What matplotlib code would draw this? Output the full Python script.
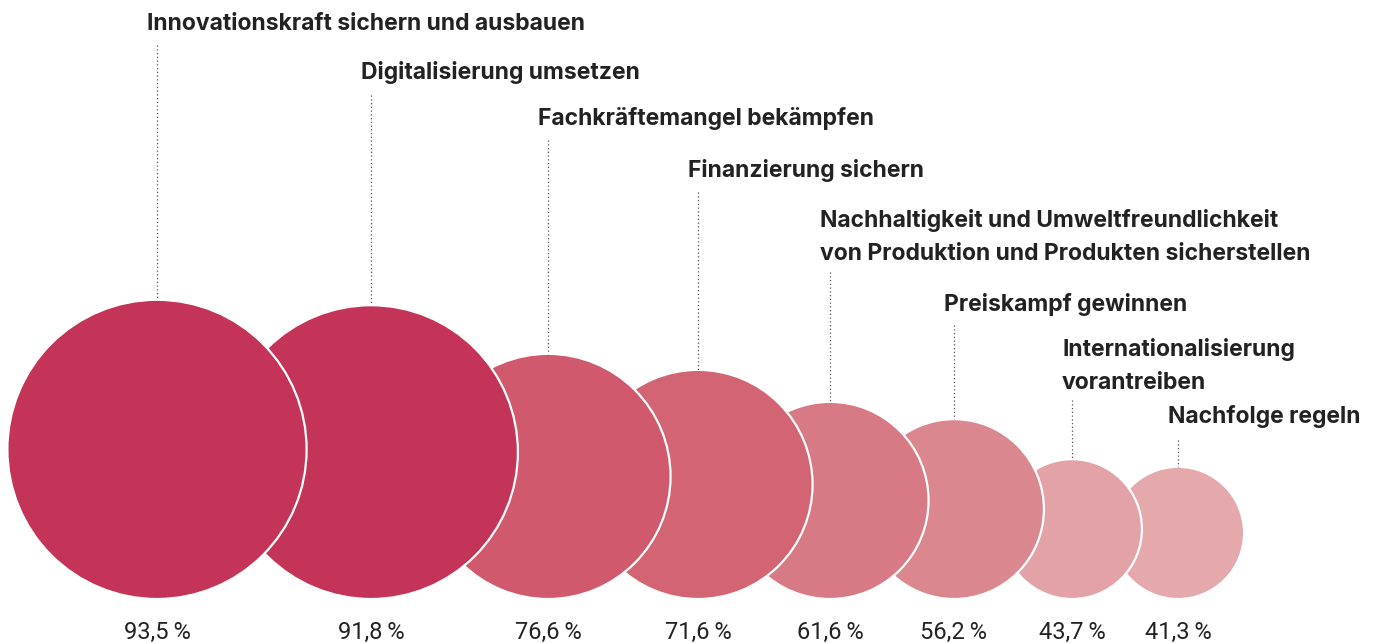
import matplotlib
matplotlib.use("Agg")
import matplotlib.pyplot as plt
from matplotlib.patches import Circle
from matplotlib import font_manager

# ---- data ----
categories = [
    "Innovationskraft sichern und ausbauen",
    "Digitalisierung umsetzen",
    "Fachkräftemangel bekämpfen",
    "Finanzierung sichern",
    "Nachhaltigkeit und Umweltfreundlichkeit\nvon Produktion und Produkten sicherstellen",
    "Preiskampf gewinnen",
    "Internationalisierung\nvorantreiben",
    "Nachfolge regeln",
]
values = [93.5, 91.8, 76.6, 71.6, 61.6, 56.2, 43.7, 41.3]
value_labels = ["93,5\u2009%", "91,8\u2009%", "76,6\u2009%", "71,6\u2009%",
                "61,6\u2009%", "56,2\u2009%", "43,7\u2009%", "41,3\u2009%"]

# ---- layout / style ----
colors = ["#C43358", "#C43358", "#D0596D", "#D36473",
          "#D77A85", "#DB878F", "#E3A2A8", "#E4A8AD"]
x_pos = [157, 371, 548, 698, 830, 954, 1072, 1178]
label_y = [24, 73, 119, 170, 237, 304, 366, 416]
line_top = [45, 95, 140, 192, 272, 325, 400, 440]
px_per_pct = 1.6
baseline = 599

avail = {f.name for f in font_manager.fontManager.ttflist}
label_font = ["Inter", "DejaVu Sans"]
pct_font = (["Liberation Sans Narrow"] if "Liberation Sans Narrow" in avail else []) + ["Roboto", "DejaVu Sans"]

fig = plt.figure(figsize=(13.74, 6.43), dpi=100)
ax = fig.add_axes([0, 0, 1, 1])
ax.set_xlim(0, 1374)
ax.set_ylim(643, 0)
ax.set_aspect("equal")
ax.axis("off")

for i, (v, c, x) in enumerate(zip(values, colors, x_pos)):
    r = v * px_per_pct
    cy = baseline - r
    ax.add_patch(Circle((x, cy), r, facecolor=c, edgecolor="white",
                        linewidth=1.6, zorder=20 - i))
    # leader line
    ax.plot([x, x], [line_top[i], baseline - 2 * r], color="#555555",
            linewidth=0.9, linestyle=(0, (1, 2)), zorder=30)
    # category label
    ax.text(x - 10, label_y[i], categories[i], ha="left", va="center",
            fontsize=16.5, fontweight="bold", color="#222222",
            family=label_font, linespacing=1.6, zorder=40)
    # value label
    ax.text(x, 632, value_labels[i], ha="center", va="center",
            fontsize=17, fontweight="normal", color="#222222",
            family=pct_font, zorder=40)

fig.savefig("out.png", dpi=100, facecolor="white")
